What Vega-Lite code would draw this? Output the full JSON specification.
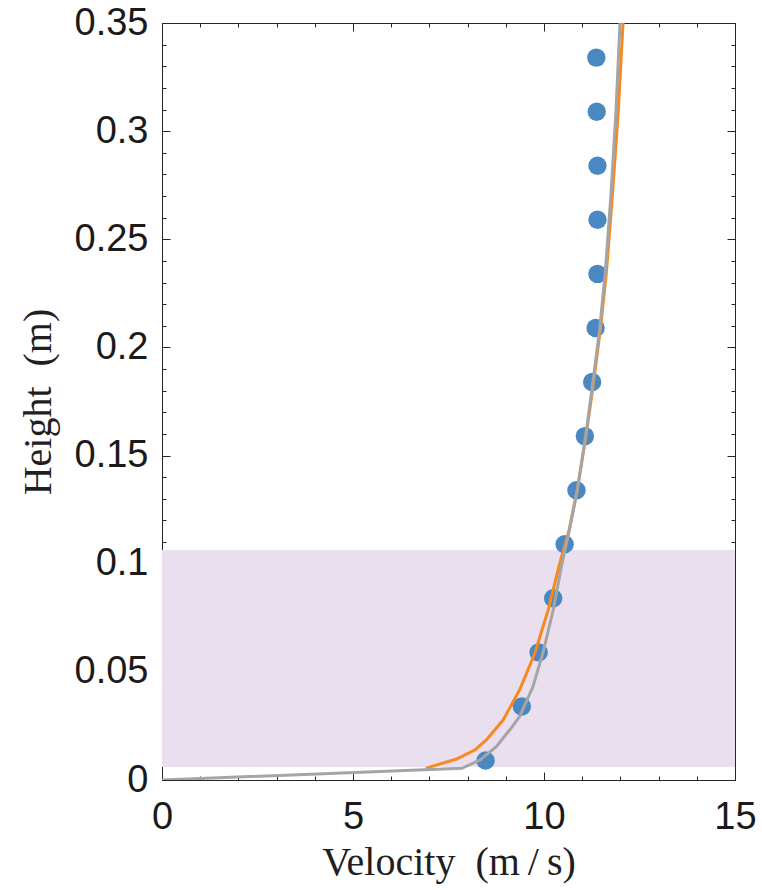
{
  "$schema": "https://vega.github.io/schema/vega-lite/v6.json",
  "width": 573,
  "height": 757,
  "autosize": "none",
  "padding": {"left": 162, "top": 23, "right": 27, "bottom": 110},
  "background": "white",
  "config": {
    "view": {"stroke": null},
    "axis": {
      "grid": false,
      "zindex": 1,
      "domain": true,
      "domainColor": "#262626",
      "domainWidth": 1,
      "tickColor": "#262626",
      "tickWidth": 1,
      "labelFont": "Liberation Sans",
      "labelFontSize": 38,
      "labelColor": "#1a1a1a",
      "labelFlush": false,
      "labelOverlap": false,
      "titleFont": "Liberation Serif",
      "titleFontSize": 40,
      "titleFontWeight": "normal",
      "titleColor": "#1f1f1f"
    }
  },
  "datasets": {
    "band": [{"x0": 0, "x1": 15, "y0": 0.006, "y1": 0.1063}],
    "points": [
      {"v": 8.47, "h": 0.009},
      {"v": 9.42, "h": 0.034},
      {"v": 9.86, "h": 0.059},
      {"v": 10.24, "h": 0.084},
      {"v": 10.54, "h": 0.109},
      {"v": 10.85, "h": 0.134},
      {"v": 11.07, "h": 0.159},
      {"v": 11.26, "h": 0.184},
      {"v": 11.35, "h": 0.209},
      {"v": 11.40, "h": 0.234},
      {"v": 11.40, "h": 0.259},
      {"v": 11.40, "h": 0.284},
      {"v": 11.38, "h": 0.309},
      {"v": 11.37, "h": 0.334}
    ],
    "orange": [
      {"v": 6.90, "h": 0.0054},
      {"v": 7.71, "h": 0.0097},
      {"v": 8.20, "h": 0.0140},
      {"v": 8.49, "h": 0.0185},
      {"v": 8.93, "h": 0.0277},
      {"v": 9.36, "h": 0.0416},
      {"v": 9.76, "h": 0.0586},
      {"v": 10.11, "h": 0.0786},
      {"v": 10.41, "h": 0.100},
      {"v": 10.65, "h": 0.115},
      {"v": 10.87, "h": 0.134},
      {"v": 11.10, "h": 0.159},
      {"v": 11.30, "h": 0.184},
      {"v": 11.48, "h": 0.209},
      {"v": 11.63, "h": 0.234},
      {"v": 11.79, "h": 0.270},
      {"v": 11.94, "h": 0.308},
      {"v": 12.07, "h": 0.35}
    ],
    "gray": [
      {"v": 0, "h": 0},
      {"v": 7.85, "h": 0.0054},
      {"v": 8.32, "h": 0.0092},
      {"v": 8.75, "h": 0.0154},
      {"v": 9.10, "h": 0.0231},
      {"v": 9.36, "h": 0.0293},
      {"v": 9.71, "h": 0.0431},
      {"v": 9.97, "h": 0.0586},
      {"v": 10.24, "h": 0.0786},
      {"v": 10.47, "h": 0.100},
      {"v": 10.66, "h": 0.115},
      {"v": 10.87, "h": 0.134},
      {"v": 11.09, "h": 0.159},
      {"v": 11.28, "h": 0.184},
      {"v": 11.46, "h": 0.209},
      {"v": 11.60, "h": 0.234},
      {"v": 11.75, "h": 0.270},
      {"v": 11.88, "h": 0.308},
      {"v": 11.99, "h": 0.35}
    ]
  },
  "layer": [
    {
      "data": {"name": "band"},
      "mark": {"type": "rect", "color": "#EADFEF"},
      "encoding": {
        "x": {
          "field": "x0", "type": "quantitative",
          "scale": {"domain": [0, 15], "nice": false, "zero": false},
          "axis": {"orient": "bottom", "values": [0, 5, 10, 15], "format": "~g", "tickSize": -8, "labelPadding": 26, "title": "Velocity\u2002(m\u2009/\u2009s)", "titlePadding": 6}
        },
        "x2": {"field": "x1"},
        "y": {
          "field": "y0", "type": "quantitative",
          "scale": {"domain": [0, 0.35], "nice": false, "zero": false},
          "axis": {"orient": "left", "values": [0, 0.05, 0.1, 0.15, 0.2, 0.25, 0.3, 0.35], "format": "~g", "tickSize": -8, "labelPadding": 22, "title": "Height\u2002(m)", "titlePadding": 16}
        },
        "y2": {"field": "y1"}
      }
    },
    {
      "data": {"name": "points"},
      "mark": {"type": "point", "filled": true, "size": 340, "opacity": 1, "color": "#4A88C2"},
      "encoding": {
        "x": {
          "field": "v", "type": "quantitative",
          "axis": {"orient": "bottom", "values": [0,1,2,3,4,5,6,7,8,9,10,11,12,13,14,15], "labels": false, "title": null, "tickSize": -4, "domain": false}
        },
        "y": {
          "field": "h", "type": "quantitative",
          "axis": {"orient": "left", "values": [0,0.01,0.02,0.03,0.04,0.05,0.06,0.07,0.08,0.09,0.1,0.11,0.12,0.13,0.14,0.15,0.16,0.17,0.18,0.19,0.2,0.21,0.22,0.23,0.24,0.25,0.26,0.27,0.28,0.29,0.3,0.31,0.32,0.33,0.34,0.35], "labels": false, "title": null, "tickSize": -4, "domain": false}
        }
      }
    },
    {
      "data": {"name": "orange"},
      "mark": {"type": "line", "color": "#F7891F", "strokeWidth": 3, "clip": true},
      "encoding": {
        "x": {
          "field": "v", "type": "quantitative",
          "axis": {"orient": "top", "values": [0, 5, 10, 15], "labels": false, "title": null, "tickSize": -8}
        },
        "y": {
          "field": "h", "type": "quantitative",
          "axis": {"orient": "right", "values": [0, 0.05, 0.1, 0.15, 0.2, 0.25, 0.3, 0.35], "labels": false, "title": null, "tickSize": -8}
        },
        "order": {"field": "h", "type": "quantitative"}
      }
    },
    {
      "data": {"name": "gray"},
      "mark": {"type": "line", "color": "#A5A5A5", "strokeWidth": 3, "clip": true},
      "encoding": {
        "x": {
          "field": "v", "type": "quantitative",
          "axis": {"orient": "top", "values": [0,1,2,3,4,5,6,7,8,9,10,11,12,13,14,15], "labels": false, "title": null, "tickSize": -4, "domain": false}
        },
        "y": {
          "field": "h", "type": "quantitative",
          "axis": {"orient": "right", "values": [0,0.01,0.02,0.03,0.04,0.05,0.06,0.07,0.08,0.09,0.1,0.11,0.12,0.13,0.14,0.15,0.16,0.17,0.18,0.19,0.2,0.21,0.22,0.23,0.24,0.25,0.26,0.27,0.28,0.29,0.3,0.31,0.32,0.33,0.34,0.35], "labels": false, "title": null, "tickSize": -4, "domain": false}
        },
        "order": {"field": "h", "type": "quantitative"}
      }
    }
  ],
  "resolve": {"axis": {"x": "independent", "y": "independent"}}
}
